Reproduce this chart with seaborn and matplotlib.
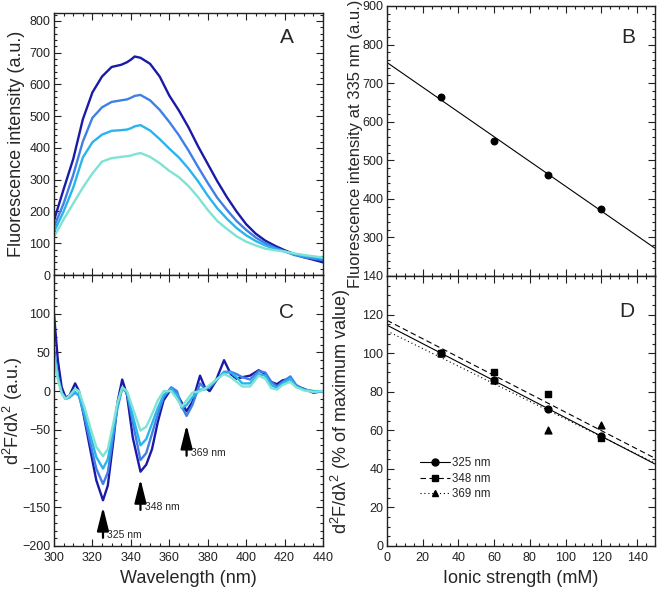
import numpy as np
import pandas as pd
import matplotlib
matplotlib.use("Agg")
import matplotlib.pyplot as plt
from matplotlib.lines import Line2D
from matplotlib.ticker import MultipleLocator
import seaborn as sns

# Panel A - emission spectra at four ionic strengths
wl_a = [300, 305, 310, 315, 320, 325, 330, 335, 338, 340, 342, 345, 350, 355, 360,
        365, 370, 375, 380, 385, 390, 395, 400, 405, 410, 415, 420, 425, 430, 435, 440]
fl_30 = [172, 270, 365, 490, 575, 625, 655, 662, 670, 678, 688, 684, 665, 625, 565,
         518, 465, 405, 350, 295, 245, 200, 160, 130, 108, 92, 78, 66, 56, 48, 40]
fl_60 = [152, 225, 315, 420, 495, 528, 545, 550, 553, 558, 564, 567, 550, 520, 482,
         440, 392, 340, 290, 243, 205, 170, 142, 118, 100, 86, 75, 63, 56, 51, 47]
fl_90 = [136, 200, 275, 370, 418, 442, 454, 456, 458, 462, 468, 472, 455, 428, 398,
         370, 335, 295, 250, 210, 177, 148, 125, 107, 93, 82, 74, 66, 60, 56, 52]
fl_120 = [120, 175, 225, 275, 320, 357, 368, 372, 374, 376, 380, 384, 372, 352, 328,
          308, 280, 245, 205, 170, 145, 122, 105, 93, 83, 78, 74, 68, 63, 59, 55]

# Panel C - second derivative spectra
wl_c = [300, 302, 304, 306, 308, 311, 313, 316, 319, 322, 325.5, 328, 331, 333, 335.5,
        338, 341, 345, 348, 351, 354, 357, 361, 364, 366.5, 369, 372, 376, 378.5, 381,
        384, 388.5, 392, 395, 398, 402, 406.5, 410, 413, 416, 419, 423, 426, 430, 435, 440]
d2_30 = [100, 40, 5, -8, -6, 10, 0, -38, -77, -115, -141, -122, -62, -15, 15,
         -5, -60, -104, -95, -75, -40, -12, 3, -4, -15, -26, -14, 20, 5, 0,
         12, 40, 22, 16, 18, 20, 27, 22, 12, 9, 14, 16, 7, 3, -2, 0]
d2_60 = [55, 20, -2, -10, -8, -2, -6, -35, -68, -100, -120, -105, -55, -22, 4,
         -2, -40, -89, -80, -55, -30, -8, 5, 0, -20, -32, -18, 10, 3, 5,
         12, 25, 25, 22, 18, 15, 26, 24, 12, 6, 12, 19, 8, 2, 0, 0]
d2_90 = [50, 18, -2, -10, -8, -1, -6, -30, -58, -85, -100, -88, -48, -20, 4,
         -2, -32, -70, -62, -42, -22, -5, 3, -5, -22, -18, -8, 2, 2, 6,
         14, 24, 24, 18, 10, 10, 22, 20, 8, 4, 10, 16, 6, 2, 0, 0]
d2_120 = [45, 15, -3, -10, -6, 3, 0, -22, -48, -72, -84, -75, -40, -15, 5,
          0, -22, -51, -46, -30, -12, 0, 0, -10, -20, -12, -2, 0, 3, 8,
          14, 22, 18, 12, 6, 6, 20, 16, 4, 2, 8, 12, 5, 1, -1, 0]

curve_colors = ["#1a1aa6", "#3f7fe6", "#29b4ee", "#7fe3d3"]

# Panels B and D
ionic = [30, 60, 90, 120]
fl_335 = [665, 551, 461, 374]
rel_325 = [100, 86, 71, 57]
rel_348 = [100, 90, 79, 56]
rel_369 = [100, 86, 60, 63]

peak_wl = [325.5, 345, 369]
peak_tip = [-146, -110, -40]
peak_labels = ["325 nm", "348 nm", "369 nm"]

sns.set_style("ticks")
plt.rcParams["font.family"] = ["Liberation Sans", "DejaVu Sans"]
plt.rcParams["mathtext.fontset"] = "custom"
plt.rcParams["mathtext.rm"] = "Liberation Sans"
plt.rcParams["mathtext.it"] = "Liberation Sans:italic"

W, H = 658, 593
fig = plt.figure(figsize=(W / 100, H / 100), dpi=100)


def px_axes(l, t, r, b):
    return fig.add_axes([l / W, 1 - b / H, (r - l) / W, (b - t) / H])


axA = px_axes(54, 13, 323, 275)
axC = px_axes(54, 275, 323, 546)
axB = px_axes(387, 6, 655, 276)
axD = px_axes(387, 276, 655, 546)

for ax in (axA, axB, axC, axD):
    ax.tick_params(which="both", direction="in", top=True, right=True,
                   labelsize=9, colors="#222222", width=0.8, pad=2.5)
    ax.tick_params(axis="x", pad=4.5)
    ax.tick_params(which="major", length=5)
    ax.tick_params(which="minor", length=2.5)
    for s in ax.spines.values():
        s.set_linewidth(1.0)
        s.set_color("#222222")

# A
for vals, c in zip([fl_30, fl_60, fl_90, fl_120], curve_colors):
    sns.lineplot(x=wl_a, y=vals, ax=axA, color=c, lw=1.7)
axA.set_xlim(300, 440)
axA.set_ylim(0, 825)
axA.xaxis.set_major_locator(MultipleLocator(20))
axA.xaxis.set_minor_locator(MultipleLocator(5))
axA.yaxis.set_major_locator(MultipleLocator(100))
axA.yaxis.set_minor_locator(MultipleLocator(20))
axA.set_xticklabels([])
axA.set_ylabel("Fluorescence intensity (a.u.)", fontsize=13)
axA.yaxis.set_label_coords(-0.108, 0.5)
axA.text(0.866, 0.905, "A", transform=axA.transAxes, fontsize=15, ha="center", va="center")

# C
for vals, c in zip([d2_30, d2_60, d2_90, d2_120], curve_colors):
    sns.lineplot(x=wl_c, y=vals, ax=axC, color=c, lw=1.7)
axC.set_xlim(300, 440)
axC.set_ylim(-200, 150)
axC.xaxis.set_major_locator(MultipleLocator(20))
axC.xaxis.set_minor_locator(MultipleLocator(5))
axC.set_yticks(np.arange(-200, 101, 50))
axC.yaxis.set_minor_locator(MultipleLocator(10))
axC.set_xlabel("Wavelength (nm)", fontsize=13)
axC.set_ylabel("d$^2$F/dλ$^2$ (a.u.)", fontsize=13)
axC.yaxis.set_label_coords(-0.108, 0.5)
axC.text(0.866, 0.86, "C", transform=axC.transAxes, fontsize=15, ha="center", va="center")
for x, tip, lab in zip(peak_wl, peak_tip, peak_labels):
    axC.annotate("", xy=(x, tip), xytext=(x, tip - 47),
                 arrowprops=dict(arrowstyle="-|>,head_length=0.72,head_width=0.18",
                                 mutation_scale=20, color="black", lw=1.6))
    axC.text(x + 2.2, tip - 40, lab, fontsize=7.5, ha="left", va="center")

# B
axB.set_xlim(0, 150)
sns.regplot(x=ionic, y=fl_335, ax=axB, ci=None, truncate=False, color="black",
            scatter_kws={"s": 22, "alpha": 1}, line_kws={"lw": 0.8})
axB.set_xlim(0, 150)
axB.set_ylim(200, 900)
axB.set_yticks(np.arange(300, 901, 100))
axB.yaxis.set_minor_locator(MultipleLocator(20))
axB.xaxis.set_major_locator(MultipleLocator(20))
axB.xaxis.set_minor_locator(MultipleLocator(5))
axB.set_xticklabels([])
axB.set_ylabel("Fluorescence intensity at 335 nm (a.u.)", fontsize=12)
axB.yaxis.set_label_coords(-0.088, 0.49)
axB.text(0.9, 0.885, "B", transform=axB.transAxes, fontsize=15, ha="center", va="center")

# D
axD.set_xlim(0, 150)
styles = [("o", "-"), ("s", (0, (5, 3))), ("^", (0, (1, 2.5)))]
handles = []
for vals, (m, ls), lab in zip([rel_325, rel_348, rel_369], styles, peak_labels):
    sns.regplot(x=ionic, y=vals, ax=axD, ci=None, truncate=False, color="black",
                marker=m, scatter_kws={"s": 24, "alpha": 1},
                line_kws={"lw": 0.8, "ls": ls})
    handles.append(Line2D([], [], color="black", marker=m, ms=5, lw=0.8, ls=ls, label=lab))
axD.set_xlim(0, 150)
axD.set_ylim(0, 140)
axD.xaxis.set_major_locator(MultipleLocator(20))
axD.xaxis.set_minor_locator(MultipleLocator(5))
axD.yaxis.set_major_locator(MultipleLocator(20))
axD.yaxis.set_minor_locator(MultipleLocator(5))
axD.set_xlabel("Ionic strength (mM)", fontsize=13)
axD.set_ylabel("d$^2$F/dλ$^2$ (% of maximum value)", fontsize=13)
axD.yaxis.set_label_coords(-0.127, 0.5)
axD.text(0.893, 0.867, "D", transform=axD.transAxes, fontsize=15, ha="center", va="center")
axD.legend(handles=handles, loc="upper left", bbox_to_anchor=(0.1, 0.35),
           frameon=False, fontsize=8.3, handlelength=2.6, handletextpad=0.2,
           labelspacing=0.3, borderpad=0)

fig.savefig("out.png", dpi=100)
